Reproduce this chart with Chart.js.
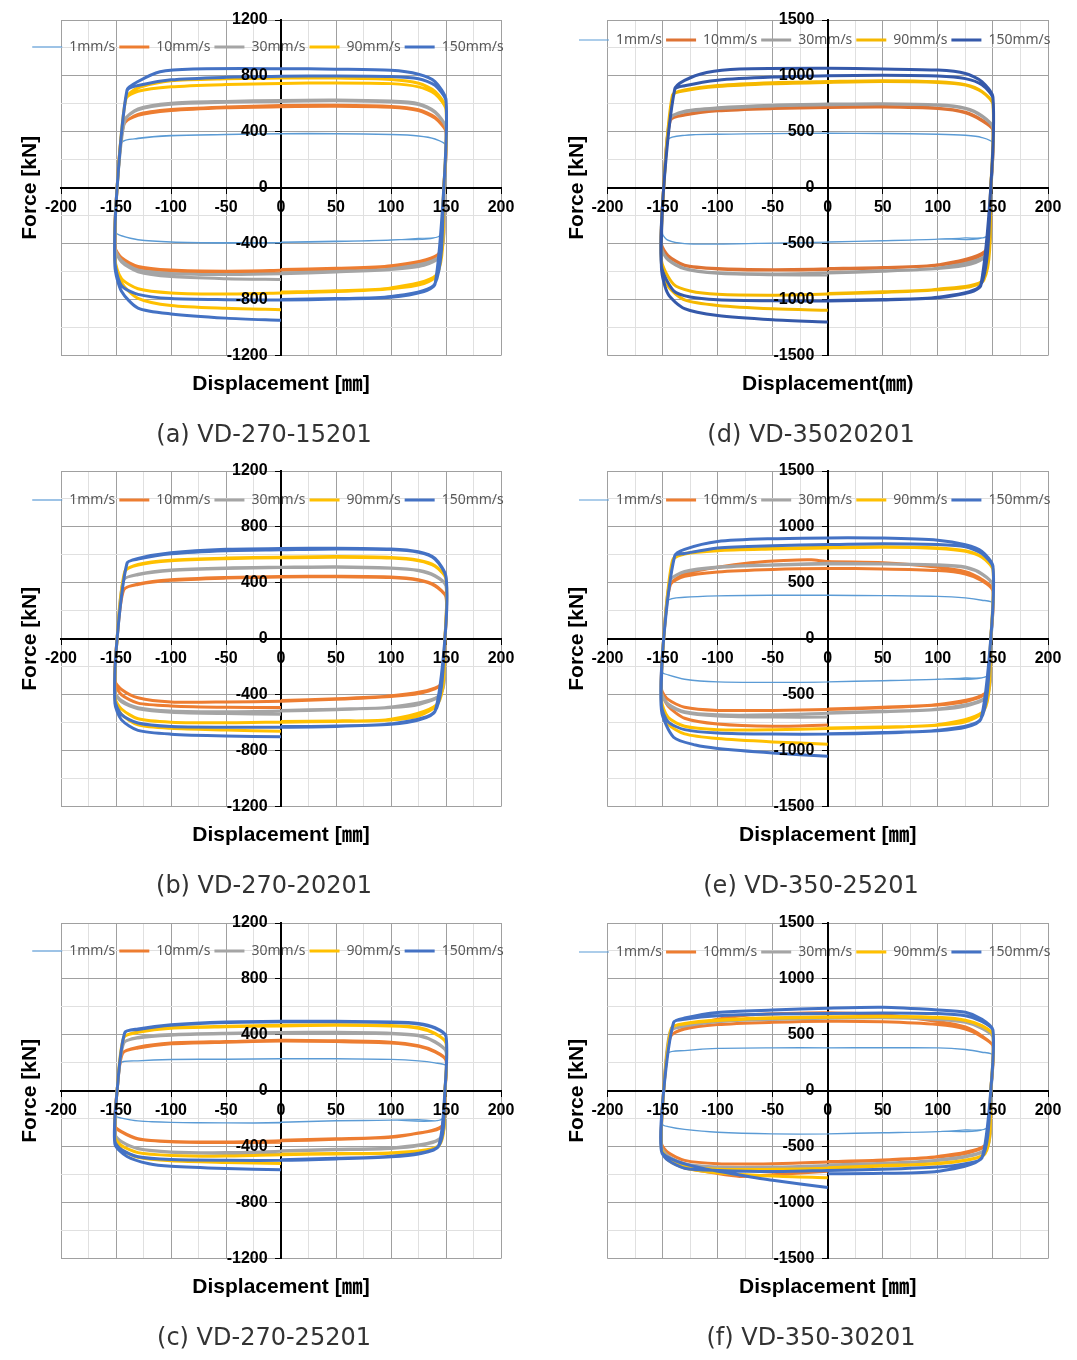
<!DOCTYPE html>
<html>
<head>
<meta charset="utf-8">
<script src="https://cdn.jsdelivr.net/npm/chart.js@4.4.1/dist/chart.umd.min.js"></script>
<style>
  html, body { margin: 0; padding: 0; background: #fff; overflow: hidden; }
  #page { position: relative; width: 1077px; height: 1360px; }
  #page canvas { position: absolute; }
</style>
</head>
<body>
<div id="page"></div>
<script>
// ── 데이터 (x: 변위 mm, y: 하중 kN, [x,y, x,y, ...]) ─────────────────────

const SPEEDS = ['1mm/s', '10mm/s', '30mm/s', '90mm/s', '150mm/s'];
const X_LABELS = [-200, -150, -100, -50, 0, 50, 100, 150, 200];
const Y_LABELS_1200 = [-1200, -800, -400, 0, 400, 800, 1200];
const Y_LABELS_1500 = [-1500, -1000, -500, 0, 500, 1000, 1500];
const CAPTIONS = ['(a) VD-270-15201', '(d) VD-35020201', '(b) VD-270-20201',
                  '(e) VD-350-25201', '(c) VD-270-25201', '(f) VD-350-30201'];
const X_TITLES = ['Displacement [㎜]', 'Displacement(㎜)'];
const Y_TITLE = 'Force [kN]';

// (a) VD-270-15201
const a1mm = [0,-395, -50,-395, -100,-388, -130,-372, -145,-345, -150,-320, -149,0, -145,320, -130,355, -100,375, -50,382, 0,388, 50,388, 100,382, 125,372, 140,350, 150,300, 149,0, 145,-340, 125,-362, 100,-375, 50,-385, 0,-390, -50,-392, -100,-386, -130,-370, -145,-342, -150,-320, -149,0, -145,325, -130,352, -100,372, -50,380, 0,385, 50,386, 100,380, 125,370, 140,348, 150,305, 149,0, 145,-338, 100,-372, 50,-382, 0,-388];
const a10mm = [0,-600, -50,-605, -100,-595, -130,-570, -145,-510, -151,-420, -149,0, -143,450, -130,525, -100,560, -50,578, 0,588, 50,590, 100,582, 125,558, 140,505, 150,405, 148,0, 144,-470, 130,-535, 100,-565, 50,-582, 0,-590, -50,-596, -100,-588, -130,-562, -145,-500, -151,-420, -149,0, -143,455, -130,518, -100,552, -50,572, 0,580, 50,583, 100,576, 125,552, 140,498, 150,400, 148,0, 144,-465, 100,-558, 50,-575, 0,-585];
const a30mm = [0,-655, -50,-650, -100,-635, -130,-600, -145,-530, -151,-430, -149,0, -142,480, -130,565, -100,605, -50,618, 0,625, 50,628, 100,620, 125,602, 140,545, 150,430, 148,0, 144,-490, 130,-555, 100,-585, 50,-602, 0,-615, -50,-620, -100,-612, -130,-588, -145,-520, -151,-430, -149,0, -142,485, -130,558, -100,598, -50,612, 0,618, 50,622, 100,614, 125,596, 140,540, 150,428, 148,0, 144,-488, 100,-580, 50,-598, 0,-610];
const a90mm = [0,-872, -50,-862, -100,-842, -130,-790, -145,-680, -151,-520, -149,0, -141,640, -130,715, -100,765, -50,780, 0,785, 50,785, 100,775, 125,748, 140,690, 150,570, 148,0, 142,-620, 130,-685, 100,-722, 50,-742, 0,-752, -50,-760, -100,-752, -130,-722, -145,-650, -151,-510, -149,0, -141,635, -130,690, -100,722, -50,738, 0,746, 50,750, 100,745, 125,722, 140,672, 150,560, 148,0, 142,-615, 100,-716, 50,-736, 0,-746];
const a150mm = [0,-948, -50,-932, -100,-902, -130,-860, -145,-740, -151,-560, -149,0, -140,700, -130,760, -110,830, -80,850, 0,852, 50,848, 100,840, 125,812, 140,760, 150,630, 148,0, 140,-690, 130,-742, 100,-782, 50,-796, 0,-802, -50,-800, -100,-792, -130,-762, -145,-700, -151,-530, -149,0, -140,695, -130,732, -100,772, -50,790, 0,797, 50,800, 100,796, 125,780, 140,732, 150,620, 148,0, 140,-685, 100,-778, 50,-792, 0,-798];

// (d) VD-35020201
const d1mm = [0,-488, -50,-495, -100,-503, -130,-498, -145,-470, -150,-410, -149,0, -145,430, -130,468, -100,480, -50,485, 0,488, 50,486, 100,480, 125,470, 140,450, 150,400, 149,0, 145,-430, 125,-448, 100,-460, 50,-474, 0,-485, -50,-494, -100,-504, -130,-500, -145,-468, -150,-410, -149,0, -145,432, -130,470, -100,478, -50,484, 0,486, 50,485, 100,478, 125,468, 140,448, 150,398, 149,0, 145,-428, 100,-458, 50,-472, 0,-483];
const d10mm = [0,-730, -50,-735, -100,-725, -130,-695, -145,-610, -151,-500, -149,0, -143,600, -130,655, -100,692, -50,712, 0,722, 50,726, 100,712, 125,675, 140,605, 150,520, 148,0, 144,-560, 130,-642, 100,-692, 50,-716, 0,-726, -50,-732, -100,-722, -130,-692, -145,-605, -151,-500, -149,0, -143,605, -130,650, -100,688, -50,708, 0,718, 50,722, 100,708, 125,670, 140,600, 150,515, 148,0, 144,-555, 100,-688, 50,-712, 0,-722];
const d30mm = [0,-780, -50,-778, -100,-765, -130,-725, -145,-645, -151,-540, -149,0, -143,620, -130,685, -100,715, -50,738, 0,748, 50,752, 100,742, 125,712, 140,645, 150,540, 148,0, 144,-600, 130,-682, 100,-722, 50,-746, 0,-762, -50,-770, -100,-760, -130,-720, -145,-640, -151,-540, -149,0, -143,625, -130,678, -100,708, -50,732, 0,742, 50,748, 100,738, 125,708, 140,640, 150,535, 148,0, 144,-598, 100,-718, 50,-742, 0,-758];
const d90mm = [0,-1095, -50,-1082, -100,-1052, -130,-1002, -145,-880, -151,-680, -149,0, -141,830, -130,875, -100,915, -50,940, 0,950, 50,958, 100,948, 125,922, 140,862, 150,750, 148,0, 142,-820, 130,-882, 100,-912, 50,-936, 0,-950, -50,-960, -100,-952, -125,-922, -140,-862, -151,-650, -149,0, -141,828, -130,868, -100,905, -50,930, 0,942, 50,950, 100,942, 125,918, 140,858, 150,745, 148,0, 142,-815, 100,-906, 50,-930, 0,-944];
const d150mm = [0,-1200, -50,-1180, -100,-1142, -130,-1080, -145,-950, -151,-720, -149,0, -139,880, -130,960, -110,1030, -80,1062, 0,1068, 50,1062, 100,1052, 125,1022, 140,950, 150,810, 148,0, 139,-872, 130,-932, 100,-982, 50,-1002, 0,-1012, -50,-1010, -100,-1000, -125,-976, -140,-920, -151,-700, -149,0, -139,878, -130,912, -100,962, -50,990, 0,1002, 50,1006, 100,1000, 125,976, 140,920, 150,800, 148,0, 139,-868, 100,-978, 50,-998, 0,-1008];

// (b) VD-270-20201  (1mm/s 곡선 없음)
const b1mm = [];
const b10mm = [0,-492, -50,-490, -100,-480, -130,-460, -145,-400, -151,-320, -149,0, -143,350, -130,392, -100,422, -50,438, 0,446, 50,447, 100,442, 125,422, 140,382, 150,300, 149,0, 145,-330, 125,-392, 100,-412, 50,-432, 0,-446, -50,-452, -100,-452, -130,-422, -145,-362, -151,-300, -149,0, -143,352, -130,388, -100,418, -50,434, 0,442, 50,444, 100,438, 125,418, 140,378, 150,298, 149,0, 145,-328, 100,-408, 50,-428, 0,-442];
const b30mm = [0,-540, -50,-535, -100,-525, -130,-500, -145,-450, -151,-380, -149,0, -143,420, -130,462, -100,492, -50,507, 0,512, 50,516, 100,507, 125,490, 140,452, 150,380, 149,0, 145,-400, 125,-470, 100,-492, 50,-507, 0,-517, -50,-522, -100,-516, -130,-492, -145,-442, -151,-380, -149,0, -143,422, -130,458, -100,488, -50,503, 0,509, 50,512, 100,504, 125,487, 140,448, 150,378, 149,0, 145,-398, 100,-488, 50,-503, 0,-513];
const b90mm = [0,-662, -50,-652, -100,-640, -130,-615, -145,-540, -151,-430, -149,0, -142,480, -130,532, -100,562, -50,577, 0,584, 50,588, 100,582, 125,562, 140,522, 150,430, 149,0, 143,-460, 125,-552, 100,-580, 50,-591, 0,-596, -50,-601, -100,-596, -130,-572, -145,-502, -151,-420, -149,0, -142,482, -130,528, -100,558, -50,573, 0,580, 50,584, 100,578, 125,558, 140,518, 150,428, 149,0, 143,-458, 100,-576, 50,-587, 0,-592];
const b150mm = [0,-700, -50,-695, -100,-682, -130,-655, -145,-580, -151,-460, -149,0, -140,540, -130,575, -100,615, -50,640, 0,645, 50,648, 100,642, 125,622, 140,575, 150,445, 149,0, 140,-520, 125,-582, 100,-612, 50,-627, 0,-632, -50,-632, -100,-627, -130,-602, -145,-542, -151,-440, -149,0, -140,542, -130,570, -100,608, -50,630, 0,636, 50,642, 100,638, 125,618, 140,570, 150,440, 149,0, 140,-518, 100,-608, 50,-623, 0,-628];

// (e) VD-350-25201
const e1mm = [0,-388, -50,-390, -100,-385, -130,-360, -145,-322, -150,-300, -149,0, -145,340, -130,372, -100,385, -50,390, 0,390, 50,386, 100,380, 125,366, 140,346, 150,320, 149,0, 145,-332, 125,-350, 100,-362, 50,-376, 0,-386, -50,-390, -100,-386, -130,-362, -145,-322, -150,-300, -149,0, -145,342, -130,370, -100,384, -50,388, 0,388, 50,385, 100,378, 125,365, 140,344, 150,318, 149,0, 145,-330, 100,-360, 50,-374, 0,-384];
const e10mm = [0,-770, -50,-782, -100,-762, -130,-710, -145,-600, -151,-460, -149,0, -143,480, -130,580, -100,640, -70,680, -40,700, -15,706, 0,690, 50,680, 100,640, 125,600, 140,530, 150,440, 148,0, 144,-480, 125,-562, 100,-592, 50,-616, 0,-632, -50,-640, -100,-640, -130,-612, -145,-542, -151,-450, -149,0, -143,482, -130,558, -100,598, -50,620, 0,628, 50,625, 100,610, 125,580, 140,520, 150,430, 148,0, 144,-478, 100,-588, 50,-612, 0,-628];
const e30mm = [0,-700, -50,-700, -100,-690, -130,-660, -145,-590, -151,-480, -149,0, -143,520, -130,602, -100,642, -50,662, 0,676, 50,672, 100,662, 125,642, 140,582, 150,480, 148,0, 144,-520, 125,-602, 100,-632, 50,-652, 0,-666, -50,-680, -100,-680, -130,-652, -145,-582, -151,-480, -149,0, -143,522, -130,598, -100,638, -50,658, 0,668, 50,668, 100,658, 125,638, 140,578, 150,478, 148,0, 144,-518, 100,-628, 50,-648, 0,-662];
const e90mm = [0,-942, -50,-922, -100,-892, -130,-850, -145,-760, -151,-580, -149,0, -141,700, -130,762, -100,792, -50,808, 0,818, 50,822, 100,812, 125,787, 140,732, 150,620, 148,0, 142,-640, 125,-742, 100,-772, 50,-792, 0,-802, -50,-812, -100,-812, -130,-782, -145,-702, -151,-550, -149,0, -141,702, -130,758, -100,788, -50,802, 0,812, 50,818, 100,808, 125,782, 140,728, 150,618, 148,0, 142,-638, 100,-768, 50,-788, 0,-798];
const e150mm = [0,-1050, -50,-1020, -100,-980, -120,-950, -140,-880, -151,-640, -149,0, -139,740, -130,800, -100,870, -50,895, 0,902, 50,900, 100,882, 125,842, 140,782, 150,650, 148,0, 139,-720, 125,-792, 100,-822, 50,-842, 0,-852, -50,-852, -100,-842, -130,-812, -145,-742, -151,-600, -149,0, -139,742, -130,762, -100,812, -50,832, 0,842, 50,850, 100,842, 125,822, 140,762, 150,640, 148,0, 139,-718, 100,-818, 50,-838, 0,-848];

// (c) VD-270-25201
const c1mm = [0,-231, -50,-230, -100,-225, -130,-215, -145,-195, -150,-180, -149,0, -146,198, -130,215, -100,225, -50,226, 0,230, 50,230, 100,225, 125,215, 140,200, 150,180, 149,0, 146,-205, 125,-206, 100,-210, 50,-216, 0,-226, -50,-230, -100,-226, -130,-215, -145,-196, -150,-180, -149,0, -146,200, -130,214, -100,223, -50,225, 0,228, 50,228, 100,224, 125,214, 140,199, 150,178, 149,0, 146,-203, 100,-209, 50,-214, 0,-224];
const c10mm = [0,-368, -50,-370, -100,-364, -130,-345, -145,-295, -151,-250, -149,0, -144,270, -130,312, -100,342, -50,352, 0,362, 50,358, 100,348, 125,322, 140,282, 150,222, 149,0, 146,-258, 125,-302, 100,-332, 50,-347, 0,-358, -50,-366, -100,-362, -130,-342, -145,-292, -151,-250, -149,0, -144,268, -130,306, -100,336, -50,348, 0,356, 50,352, 100,342, 125,318, 140,278, 150,218, 149,0, 146,-255, 100,-328, 50,-343, 0,-354];
const c30mm = [0,-445, -50,-448, -100,-440, -130,-415, -145,-365, -151,-310, -149,0, -143,340, -130,382, -100,402, -50,412, 0,417, 50,418, 100,412, 125,397, 140,352, 150,282, 149,0, 145,-340, 125,-392, 100,-412, 50,-422, 0,-432, -50,-442, -100,-437, -130,-412, -145,-362, -151,-310, -149,0, -143,342, -130,378, -100,398, -50,408, 0,413, 50,414, 100,408, 125,393, 140,348, 150,280, 149,0, 145,-338, 100,-408, 50,-418, 0,-428];
const c90mm = [0,-520, -50,-512, -100,-500, -130,-475, -145,-420, -151,-340, -149,0, -143,380, -130,422, -100,452, -50,462, 0,468, 50,472, 100,467, 125,452, 140,412, 150,342, 149,0, 144,-390, 125,-432, 100,-447, 50,-452, 0,-457, -50,-467, -100,-462, -130,-442, -145,-392, -151,-330, -149,0, -143,382, -130,418, -100,448, -50,458, 0,464, 50,468, 100,463, 125,448, 140,408, 150,340, 149,0, 144,-388, 100,-443, 50,-448, 0,-453];
const c150mm = [0,-565, -50,-556, -100,-540, -120,-522, -140,-470, -151,-380, -149,0, -142,415, -130,442, -100,472, -50,492, 0,497, 50,497, 100,492, 125,482, 140,452, 150,392, 149,0, 143,-400, 125,-452, 100,-472, 50,-487, 0,-497, -50,-497, -100,-492, -130,-472, -145,-422, -151,-360, -149,0, -142,417, -130,438, -100,468, -50,488, 0,494, 50,494, 100,488, 125,478, 140,448, 150,388, 149,0, 143,-398, 100,-468, 50,-483, 0,-493];

// (f) VD-350-30201
const f1mm = [0,-388, -50,-385, -100,-370, -130,-345, -145,-320, -150,-300, -149,0, -145,335, -130,360, -100,380, -50,385, 0,385, 50,386, 100,385, 125,370, 140,346, 150,320, 149,0, 145,-332, 125,-350, 100,-366, 50,-376, 0,-386, -50,-386, -100,-372, -130,-346, -145,-320, -150,-300, -149,0, -145,337, -130,358, -100,378, -50,383, 0,383, 50,384, 100,383, 125,368, 140,344, 150,318, 149,0, 145,-330, 100,-364, 50,-374, 0,-384];
const f10mm = [0,-720, -50,-750, -80,-765, -100,-740, -130,-685, -145,-590, -151,-470, -149,0, -143,480, -130,560, -100,640, -70,680, -40,692, 0,698, 50,680, 100,620, 125,570, 140,490, 150,400, 148,0, 144,-480, 125,-562, 100,-592, 50,-622, 0,-637, -50,-652, -100,-652, -130,-622, -145,-552, -151,-470, -149,0, -143,482, -130,552, -100,592, -50,612, 0,622, 50,617, 100,592, 125,552, 140,482, 150,400, 148,0, 144,-478, 100,-588, 50,-618, 0,-633];
const f30mm = [0,-690, -50,-690, -100,-690, -130,-660, -145,-590, -151,-500, -149,0, -143,530, -130,582, -100,622, -50,642, 0,652, 50,657, 100,642, 125,617, 140,562, 150,482, 148,0, 144,-520, 125,-592, 100,-622, 50,-652, 0,-667, -50,-682, -100,-682, -130,-652, -145,-582, -151,-500, -149,0, -143,532, -130,578, -100,618, -50,638, 0,648, 50,652, 100,638, 125,613, 140,558, 150,480, 148,0, 144,-518, 100,-618, 50,-648, 0,-663];
const f90mm = [0,-778, -50,-762, -100,-732, -130,-690, -145,-620, -151,-520, -149,0, -142,560, -130,602, -100,632, -50,652, 0,662, 50,667, 100,657, 125,632, 140,582, 150,502, 148,0, 143,-560, 125,-622, 100,-652, 50,-672, 0,-692, -50,-702, -100,-702, -130,-672, -145,-602, -151,-520, -149,0, -142,562, -130,598, -100,628, -50,648, 0,658, 50,663, 100,653, 125,628, 140,578, 150,498, 148,0, 143,-558, 100,-648, 50,-668, 0,-688];
const f150mm = [0,-865, -50,-800, -80,-752, -110,-700, -137,-630, -151,-540, -149,0, -140,610, -130,650, -100,700, -50,722, 0,738, 50,746, 100,722, 125,702, 140,640, 150,545, 148,0, 140,-600, 125,-652, 100,-682, 50,-702, 0,-712, -50,-722, -100,-712, -130,-692, -145,-622, -151,-540, -149,0, -140,612, -130,640, -100,670, -50,686, 0,690, 50,696, 100,690, 125,670, 140,620, 150,540, 148,0, 140,-598, 100,-720, 50,-738, 0,-742];

// ── 스타일 ────────────────────────────────────────────────────────────────

const PALETTE   = ['#5B9BD5', '#ED7D31', '#A5A5A5', '#FFC000', '#4472C4'];
const PALETTE_D = ['#5B9BD5', '#DE7334', '#A0A0A0', '#F5B800', '#3559AA'];
const WIDTHS = [1.2, 3, 3, 3, 3];
const GRID_MAJOR = '#a0a0a0';
const GRID_MINOR = '#e0e0e0';
const TICK_FONT = { family: "'Liberation Sans', Arial, sans-serif", size: 16, weight: 'bold' };
const TITLE_FONT = { family: "'Liberation Sans', Arial, 'Noto Sans CJK KR', sans-serif", size: 21, weight: 'bold' };

const COLUMNS = [
  { left: 0,   width: 540, padRight: 39, yTitlePad: { top: 17.4, bottom: 18.4 }, captionX: 264 },
  { left: 540, width: 537, padRight: 29, yTitlePad: { top: 24.4, bottom: 17.9 }, captionX: 271 },
];
const ROW_TOPS = [0, 451, 903];

const PANELS = [
  { col: 0, row: 0, series: [a1mm, a10mm, a30mm, a90mm, a150mm], yMax: 1200, yLabels: Y_LABELS_1200, xTitle: X_TITLES[0], caption: CAPTIONS[0], colors: PALETTE,   legendDy: 16 },
  { col: 1, row: 0, series: [d1mm, d10mm, d30mm, d90mm, d150mm], yMax: 1500, yLabels: Y_LABELS_1500, xTitle: X_TITLES[1], caption: CAPTIONS[1], colors: PALETTE_D, legendDy: 9 },
  { col: 0, row: 1, series: [b1mm, b10mm, b30mm, b90mm, b150mm], yMax: 1200, yLabels: Y_LABELS_1200, xTitle: X_TITLES[0], caption: CAPTIONS[2], colors: PALETTE,   legendDy: 18 },
  { col: 1, row: 1, series: [e1mm, e10mm, e30mm, e90mm, e150mm], yMax: 1500, yLabels: Y_LABELS_1500, xTitle: X_TITLES[0], caption: CAPTIONS[3], colors: PALETTE,   legendDy: 18 },
  { col: 0, row: 2, series: [c1mm, c10mm, c30mm, c90mm, c150mm], yMax: 1200, yLabels: Y_LABELS_1200, xTitle: X_TITLES[0], caption: CAPTIONS[4], colors: PALETTE,   legendDy: 17 },
  { col: 1, row: 2, series: [f1mm, f10mm, f30mm, f90mm, f150mm], yMax: 1500, yLabels: Y_LABELS_1500, xTitle: X_TITLES[0], caption: CAPTIONS[5], colors: PALETTE,   legendDy: 18 },
];

// ── 유틸 ──────────────────────────────────────────────────────────────────

function toPoints(flat) {
  const pts = [];
  for (let i = 0; i < flat.length; i += 2) pts.push({ x: flat[i], y: flat[i + 1] });
  return pts;
}

// 범례를 플롯 안쪽에 겹쳐 그리고, 캡션 위치를 맞춤
function overlayPlugin(legendDy, captionX) {
  return {
    id: 'overlay',
    beforeLayout(chart) {
      const lg = chart.legend;
      if (lg && !lg._flat) {
        const fit = lg.fit;
        lg.fit = function () { fit.call(this); this.height = 0; };
        lg._flat = true;
      }
    },
    afterLayout(chart) {
      const ca = chart.chartArea;
      const lg = chart.legend;
      const cx = (ca.left + ca.right) / 2 - 13;
      lg.left = cx - 300; lg.right = cx + 300; lg.width = 600;
      lg.top = ca.top + legendDy; lg.height = 40; lg.bottom = lg.top + 40;
      const tb = chart.titleBlock;
      tb.left = captionX - 220; tb.right = captionX + 220; tb.width = 440;
    },
  };
}

// ── 차트 생성 ─────────────────────────────────────────────────────────────

function makePanel(p) {
  const col = COLUMNS[p.col];
  const cv = document.createElement('canvas');
  cv.width = col.width;
  cv.height = 452;
  cv.style.left = col.left + 'px';
  cv.style.top = ROW_TOPS[p.row] + 'px';
  document.getElementById('page').appendChild(cv);

  const datasets = p.series.map((arr, i) => ({
    label: SPEEDS[i],
    data: toPoints(arr),
    borderColor: p.colors[i],
    backgroundColor: p.colors[i],
    borderWidth: WIDTHS[i],
    pointRadius: 0,
    showLine: true,
    tension: 0.25,
    order: SPEEDS.length - 1 - i,
    xAxisID: 'x',
    yAxisID: 'y',
  }));

  return new Chart(cv, {
    type: 'scatter',
    data: { datasets },
    options: {
      responsive: false,
      animation: false,
      devicePixelRatio: 1,
      layout: { padding: { left: 0, right: col.padRight, top: 20, bottom: 2 } },
      scales: {
        x: {
          type: 'linear',
          position: { y: 0 },
          min: -200, max: 200,
          grid: {
            color: c => X_LABELS.includes(c.tick.value) ? GRID_MAJOR : GRID_MINOR,
            tickColor: c => X_LABELS.includes(c.tick.value) ? '#000' : 'rgba(0,0,0,0)',
            tickLength: 5,
          },
          border: { color: '#000', width: 2 },
          ticks: {
            stepSize: 25, autoSkip: false, maxRotation: 0, padding: 5,
            color: '#000', font: TICK_FONT, z: 1,
            callback: v => X_LABELS.includes(v) ? String(v) : '',
          },
        },
        y: {
          type: 'linear',
          position: { x: 0 },
          min: -p.yMax, max: p.yMax,
          grid: {
            color: c => p.yLabels.includes(c.tick.value) ? GRID_MAJOR : GRID_MINOR,
            tickColor: c => p.yLabels.includes(c.tick.value) ? '#000' : 'rgba(0,0,0,0)',
            tickLength: 5,
          },
          border: { color: '#000', width: 2 },
          ticks: {
            stepSize: p.yMax / 6, autoSkip: false, padding: 7,
            color: '#000', font: TICK_FONT, z: 1,
            // 축선과 라벨 사이 간격
            callback: v => p.yLabels.includes(v) ? String(v) + '   ' : '',
          },
        },
        xt: {
          type: 'linear', axis: 'x', position: 'bottom', display: true,
          grid: { display: false, drawTicks: false }, border: { display: false },
          ticks: { display: false },
          title: { display: true, text: p.xTitle, color: '#000', font: TITLE_FONT, padding: { top: 16.4, bottom: 4 } },
        },
        yt: {
          type: 'linear', axis: 'y', position: 'left', display: true,
          grid: { display: false, drawTicks: false }, border: { display: false },
          ticks: { display: false },
          title: { display: true, text: Y_TITLE, color: '#000', font: TITLE_FONT, padding: col.yTitlePad },
        },
      },
      plugins: {
        legend: {
          position: 'top',
          align: 'center',
          labels: {
            usePointStyle: true,
            pointStyle: 'line',
            pointStyleWidth: 30,
            color: '#595959',
            font: { family: "'Noto Sans', 'Open Sans', sans-serif", size: 14 },
            padding: 4,
            sort: (a, b) => a.datasetIndex - b.datasetIndex,
          },
        },
        title: {
          display: true,
          position: 'bottom',
          text: p.caption,
          color: '#333',
          font: { family: "'DejaVu Sans', sans-serif", size: 24, weight: 'normal' },
          padding: { top: 20, bottom: 0 },
        },
        tooltip: { enabled: false },
      },
    },
    plugins: [overlayPlugin(p.legendDy, col.captionX)],
  });
}

PANELS.forEach(makePanel);
</script>
</body>
</html>
